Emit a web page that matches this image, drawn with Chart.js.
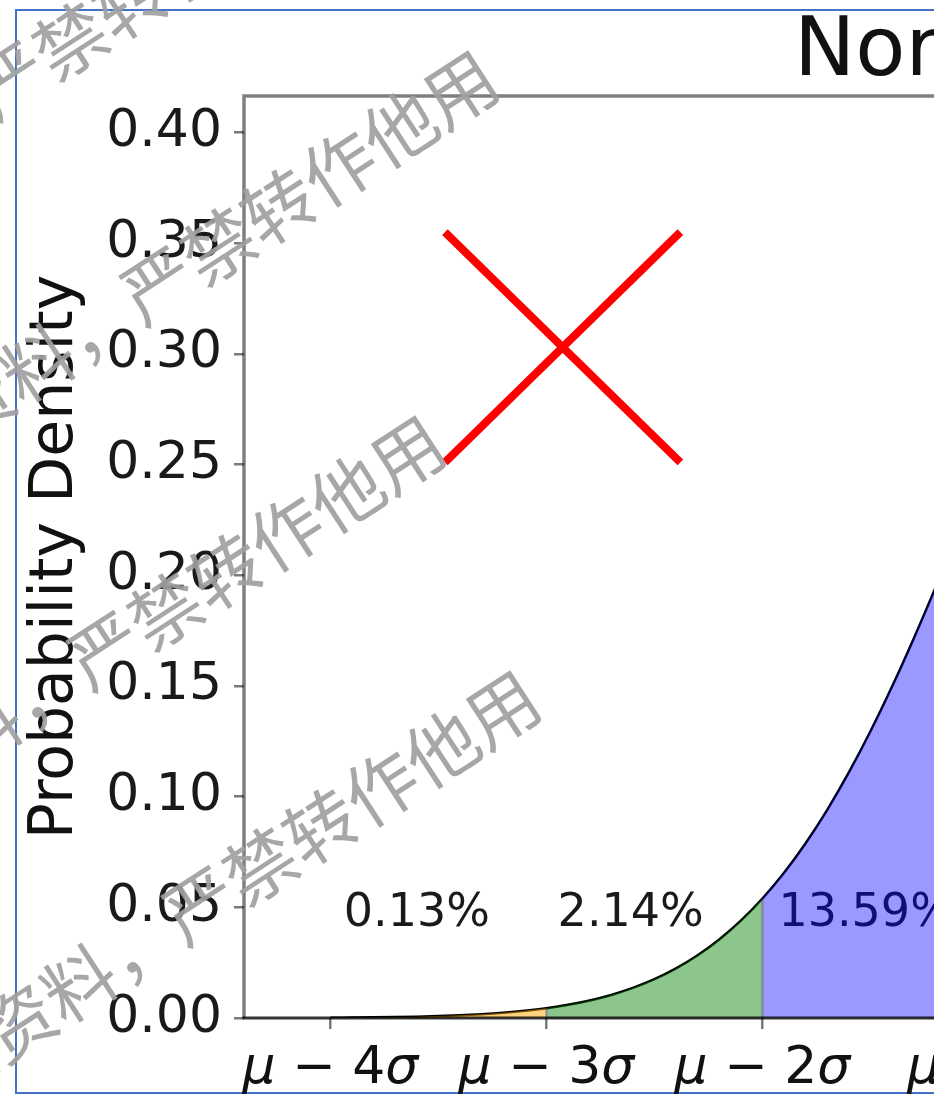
<!DOCTYPE html>
<html>
<head>
<meta charset="utf-8">
<script src="https://cdn.jsdelivr.net/npm/chart.js@4.4.1/dist/chart.umd.min.js"></script>
<style>
  html, body { margin: 0; padding: 0; background: #fff; width: 934px; height: 1095px; overflow: hidden; }
  #frame { position: absolute; left: 15px; top: 9px; width: 2400px; height: 1085px; border: 2px solid #4472c4; box-sizing: border-box; }
  #chart { position: absolute; left: 0; top: 0; }
</style>
</head>
<body>
<div id="frame"></div>
<canvas id="chart" width="2260" height="1095"></canvas>
<script>
// Standard normal curve, sampled every 0.1 sigma
const sigmaX = [
  -4.0, -3.9, -3.8, -3.7, -3.6, -3.5, -3.4, -3.3, -3.2, -3.1,
  -3.0, -2.9, -2.8, -2.7, -2.6, -2.5, -2.4, -2.3, -2.2, -2.1,
  -2.0, -1.9, -1.8, -1.7, -1.6, -1.5, -1.4, -1.3, -1.2, -1.1,
  -1.0, -0.9, -0.8, -0.7, -0.6, -0.5, -0.4, -0.3, -0.2, -0.1,
  0.0,
  0.1, 0.2, 0.3, 0.4, 0.5, 0.6, 0.7, 0.8, 0.9, 1.0,
  1.1, 1.2, 1.3, 1.4, 1.5, 1.6, 1.7, 1.8, 1.9, 2.0,
  2.1, 2.2, 2.3, 2.4, 2.5, 2.6, 2.7, 2.8, 2.9, 3.0,
  3.1, 3.2, 3.3, 3.4, 3.5, 3.6, 3.7, 3.8, 3.9, 4.0
];
const density = [
  0.00013, 0.00020, 0.00029, 0.00042, 0.00061, 0.00087, 0.00123, 0.00172, 0.00238, 0.00327,
  0.00443, 0.00595, 0.00792, 0.01042, 0.01358, 0.01753, 0.02239, 0.02833, 0.03547, 0.04398,
  0.05399, 0.06562, 0.07895, 0.09405, 0.11092, 0.12952, 0.14973, 0.17137, 0.19419, 0.21785,
  0.24197, 0.26609, 0.28969, 0.31225, 0.33322, 0.35207, 0.36827, 0.38139, 0.39104, 0.39695,
  0.39894,
  0.39695, 0.39104, 0.38139, 0.36827, 0.35207, 0.33322, 0.31225, 0.28969, 0.26609, 0.24197,
  0.21785, 0.19419, 0.17137, 0.14973, 0.12952, 0.11092, 0.09405, 0.07895, 0.06562, 0.05399,
  0.04398, 0.03547, 0.02833, 0.02239, 0.01753, 0.01358, 0.01042, 0.00792, 0.00595, 0.00443,
  0.00327, 0.00238, 0.00172, 0.00123, 0.00087, 0.00061, 0.00042, 0.00029, 0.00020, 0.00013
];

// Shaded sigma bands and their share of the area
const regionBounds = [[-4, -3], [-3, -2], [-2, -1], [-1, 0], [0, 1], [1, 2], [2, 3], [3, 4]];
const regionColors = [
  'rgba(255,165,0,0.5)', 'rgba(0,128,0,0.45)', 'rgba(0,0,255,0.4)', 'rgba(255,0,0,0.3)',
  'rgba(255,0,0,0.3)', 'rgba(0,0,255,0.4)', 'rgba(0,128,0,0.45)', 'rgba(255,165,0,0.5)'
];
const regionLabels = ['0.13%', '2.14%', '13.59%', '34.13%', '34.13%', '13.59%', '2.14%', '0.13%'];
const labelX = [-3.6, -2.61, -1.52, -0.5, 0.5, 1.52, 2.61, 3.6];
const labelY = 0.0468;

// Axis ticks
const xTickValues = [-4, -3, -2, -1, 0, 1, 2, 3, 4];
const xTickLabels = ['μ − 4σ', 'μ − 3σ', 'μ − 2σ', 'μ − σ', 'μ', 'μ + σ', 'μ + 2σ', 'μ + 3σ', 'μ + 4σ'];
const yTickValues = [0, 0.05, 0.10, 0.15, 0.20, 0.25, 0.30, 0.35, 0.40];

const chartTitle = 'Normal Distribution';
const yAxisTitle = 'Probability Density';

// Red cross over the upper-left part of the plot (data units)
const crossFrom = { x: -3.47, y: 0.355 };
const crossTo = { x: -2.38, y: 0.251 };

// Diagonal notice repeated over the page
const watermarkText = '云资料，严禁转作他用';
const watermarkAnchors = [[10, 80], [158, 285], [105, 650], [200, 905]];

const FONT = '"DejaVu Sans", "Liberation Sans", sans-serif';

const curvePoints = sigmaX.map((x, i) => ({ x: x, y: density[i] }));

function densityAt(v) {
  const i = sigmaX.findIndex(x => Math.abs(x - v) < 1e-6);
  return density[i];
}

const datasets = [{
  label: 'pdf',
  data: curvePoints,
  borderColor: '#000',
  borderWidth: 2.5,
  pointRadius: 0,
  fill: false,
  cubicInterpolationMode: 'monotone',
  order: 10
}];
regionBounds.forEach((b, k) => {
  datasets.push({
    label: regionLabels[k],
    data: curvePoints.filter(p => p.x >= b[0] - 1e-6 && p.x <= b[1] + 1e-6),
    backgroundColor: regionColors[k],
    borderWidth: 0,
    pointRadius: 0,
    fill: 'origin',
    cubicInterpolationMode: 'monotone',
    order: 1
  });
});

function drawMathLabel(ctx, text, cx, baseline, size) {
  const runs = [];
  for (const ch of text) {
    const greek = /[\u03b1-\u03c9]/.test(ch);
    if (runs.length && runs[runs.length - 1].greek === greek) runs[runs.length - 1].t += ch;
    else runs.push({ t: ch, greek: greek });
  }
  let total = 0;
  runs.forEach(r => {
    ctx.font = (r.greek ? 'italic ' : '') + size + 'px ' + FONT;
    r.w = ctx.measureText(r.t).width;
    total += r.w;
  });
  let x = cx - total / 2;
  ctx.textAlign = 'left';
  ctx.textBaseline = 'alphabetic';
  runs.forEach(r => {
    ctx.font = (r.greek ? 'italic ' : '') + size + 'px ' + FONT;
    ctx.fillText(r.t, x, baseline);
    x += r.w;
  });
}

const decor = {
  id: 'sigmaDecor',
  beforeDatasetsDraw(chart) {
    const { ctx, scales: { x, y } } = chart;
    ctx.save();
    ctx.fillStyle = '#1a1a1a';
    ctx.font = '46px ' + FONT;
    ctx.textAlign = 'center';
    ctx.textBaseline = 'middle';
    regionLabels.forEach((t, k) => ctx.fillText(t, x.getPixelForValue(labelX[k]), y.getPixelForValue(labelY)));
    ctx.restore();
  },
  afterDatasetsDraw(chart) {
    const { ctx, chartArea: a, scales: { x, y } } = chart;
    ctx.save();
    // band edges
    ctx.strokeStyle = 'rgba(60,60,100,0.5)';
    ctx.lineWidth = 2;
    [-3, -2, -1, 1, 2, 3].forEach(v => {
      const px = x.getPixelForValue(v);
      ctx.beginPath();
      ctx.moveTo(px, y.getPixelForValue(0));
      ctx.lineTo(px, y.getPixelForValue(densityAt(v)));
      ctx.stroke();
    });
    // axes frame
    ctx.strokeStyle = 'rgba(0,0,0,0.5)';
    ctx.lineWidth = 3.5;
    ctx.beginPath();
    ctx.moveTo(a.left, a.bottom);
    ctx.lineTo(a.left, a.top);
    ctx.lineTo(a.right, a.top);
    ctx.lineTo(a.right, a.bottom);
    ctx.stroke();
    ctx.strokeStyle = 'rgba(0,0,0,0.8)';
    ctx.lineWidth = 3;
    ctx.beginPath();
    ctx.moveTo(a.left - 1.5, a.bottom);
    ctx.lineTo(a.right + 1.5, a.bottom);
    ctx.stroke();
    // red cross
    const x0 = x.getPixelForValue(crossFrom.x), x1 = x.getPixelForValue(crossTo.x);
    const y0 = y.getPixelForValue(crossFrom.y), y1 = y.getPixelForValue(crossTo.y);
    ctx.strokeStyle = '#ff0000';
    ctx.lineWidth = 8;
    ctx.lineCap = 'butt';
    ctx.beginPath();
    ctx.moveTo(x0, y0); ctx.lineTo(x1, y1);
    ctx.moveTo(x0, y1); ctx.lineTo(x1, y0);
    ctx.stroke();
    ctx.restore();
  },
  afterDraw(chart) {
    const { ctx, chartArea: a, scales: { x } } = chart;
    ctx.save();
    ctx.fillStyle = '#111';
    // title
    ctx.font = '82px ' + FONT;
    ctx.textAlign = 'center';
    ctx.textBaseline = 'alphabetic';
    ctx.fillText(chartTitle, x.getPixelForValue(0), 75);
    // y axis title
    ctx.save();
    ctx.translate(72, (a.top + a.bottom) / 2);
    ctx.rotate(-Math.PI / 2);
    ctx.font = '60px ' + FONT;
    ctx.textAlign = 'center';
    ctx.fillText(yAxisTitle, 0, 0);
    ctx.restore();
    // x tick labels
    xTickValues.forEach((v, i) => drawMathLabel(ctx, xTickLabels[i], x.getPixelForValue(v), 1083, 52));
    ctx.restore();

    // diagonal notice
    ctx.save();
    ctx.font = '72px "Noto Sans CJK SC", sans-serif';
    ctx.fillStyle = 'rgba(160,160,160,0.92)';
    ctx.textAlign = 'left';
    ctx.textBaseline = 'middle';
    const lead = ctx.measureText(watermarkText.slice(0, 4)).width + ctx.measureText('严').width / 2;
    watermarkAnchors.forEach(p => {
      ctx.save();
      ctx.translate(p[0], p[1]);
      ctx.rotate(-33 * Math.PI / 180);
      ctx.fillText(watermarkText, -lead, 0);
      ctx.restore();
    });
    ctx.restore();
  }
};

new Chart(document.getElementById('chart'), {
  type: 'line',
  data: { datasets: datasets },
  options: {
    responsive: false,
    animation: false,
    events: [],
    layout: { padding: { left: 0, top: 96, right: 115, bottom: 0 } },
    plugins: { legend: { display: false }, tooltip: { enabled: false }, title: { display: false } },
    scales: {
      x: {
        type: 'linear',
        min: -4.4,
        max: 4.4,
        afterBuildTicks: s => { s.ticks = xTickValues.map(v => ({ value: v })); },
        ticks: { display: false, stepSize: 1, includeBounds: false },
        grid: { drawOnChartArea: false, drawTicks: true, tickLength: 11, color: '#7a7a7a', lineWidth: 2.5 },
        border: { display: false },
        afterFit: s => { s.height = 77; }
      },
      y: {
        type: 'linear',
        min: 0,
        max: 0.4165,
        afterBuildTicks: s => { s.ticks = yTickValues.map(v => ({ value: v })); },
        ticks: {
          stepSize: 0.05,
          includeBounds: false,
          padding: 12,
          color: '#1a1a1a',
          font: { family: FONT, size: 52 },
          callback: v => Number(v).toFixed(2)
        },
        grid: { drawOnChartArea: false, drawTicks: true, tickLength: 10, color: '#7a7a7a', lineWidth: 2.5 },
        border: { display: false },
        afterFit: s => { s.width = 244; }
      }
    }
  },
  plugins: [decor]
});
</script>
</body>
</html>
